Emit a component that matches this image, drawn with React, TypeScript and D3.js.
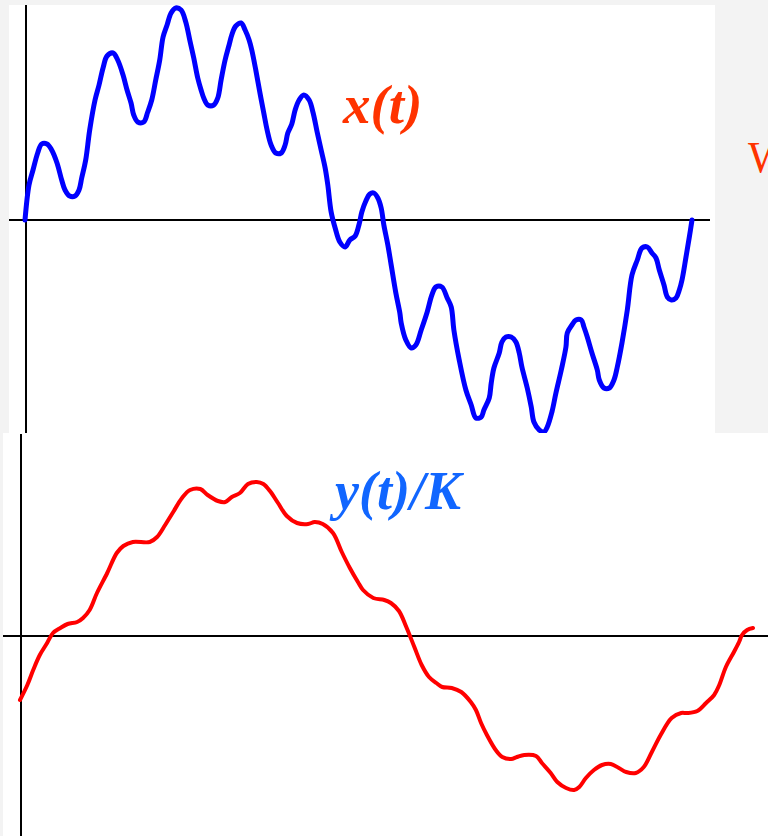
import * as d3 from 'd3'

const W = 768
const H = 836

// x(t): time (0..100) and value
const xT = [0, 0.6, 1.2, 1.9, 2.5, 3.3, 4.0, 4.8, 5.5, 6.0, 6.7, 7.5, 8.1, 8.5, 9.1, 9.7, 10.5, 11.1, 11.7, 12.3, 13.2, 13.9, 14.7, 15.3, 15.9, 16.3, 16.9, 17.8, 18.4, 19.0, 19.6, 20.2, 20.7, 21.3, 21.9, 22.6, 23.4, 24.1, 24.7, 25.3, 25.9, 26.4, 26.8, 27.4, 28.3, 28.9, 29.4, 30.0, 30.6, 31.0, 31.6, 32.4, 33.0, 33.6, 34.0, 34.6, 35.2, 35.8, 36.3, 36.9, 37.6, 38.4, 39.0, 39.4, 40.0, 40.5, 41.1, 41.8, 42.6, 43.2, 43.8, 44.4, 45.0, 45.4, 45.9, 46.5, 47.2, 48.0, 48.7, 49.5, 50.1, 50.5, 51.1, 51.7, 52.3, 52.9, 53.4, 53.8, 54.4, 54.9, 55.6, 56.2, 56.4, 57.1, 57.9, 58.6, 59.4, 60.3, 61.0, 61.6, 62.5, 63.3, 63.9, 64.3, 65.1, 66.1, 66.9, 67.6, 68.4, 68.8, 69.6, 69.9, 70.3, 71.1, 71.5, 72.1, 72.9, 73.6, 74.1, 74.5, 75.3, 75.9, 76.3, 77.1, 77.8, 78.3, 79.0, 79.6, 80.4, 81.1, 81.3, 82.0, 82.6, 83.4, 83.8, 84.3, 85.0, 85.8, 86.1, 86.8, 87.6, 88.3, 88.8, 89.5, 90.3, 91.0, 91.8, 92.5, 93.3, 94.0, 94.6, 95.1, 95.8, 96.3, 96.9, 97.6, 98.1, 98.5, 99.1, 99.6, 100]
const xVal = [0, 0.35, 0.5, 0.67, 0.76, 0.76, 0.7, 0.57, 0.4, 0.3, 0.24, 0.24, 0.3, 0.42, 0.6, 0.9, 1.2, 1.35, 1.52, 1.64, 1.67, 1.6, 1.45, 1.3, 1.17, 1.05, 0.98, 0.98, 1.08, 1.2, 1.4, 1.6, 1.83, 1.95, 2.07, 2.12, 2.1, 1.98, 1.8, 1.62, 1.42, 1.3, 1.22, 1.15, 1.15, 1.22, 1.4, 1.6, 1.75, 1.85, 1.94, 1.97, 1.9, 1.8, 1.7, 1.5, 1.28, 1.07, 0.9, 0.75, 0.67, 0.67, 0.75, 0.87, 0.96, 1.1, 1.2, 1.25, 1.2, 1.07, 0.88, 0.7, 0.52, 0.35, 0.08, -0.08, -0.22, -0.27, -0.2, -0.16, -0.04, 0.08, 0.19, 0.26, 0.27, 0.22, 0.12, -0.05, -0.25, -0.45, -0.73, -0.93, -1.03, -1.2, -1.28, -1.25, -1.1, -0.92, -0.75, -0.67, -0.67, -0.78, -0.87, -1.1, -1.4, -1.7, -1.85, -1.98, -1.97, -1.9, -1.78, -1.63, -1.48, -1.33, -1.22, -1.17, -1.17, -1.22, -1.33, -1.47, -1.68, -1.87, -2.02, -2.1, -2.12, -2.07, -1.92, -1.73, -1.5, -1.27, -1.13, -1.05, -1.0, -1.0, -1.07, -1.17, -1.33, -1.5, -1.6, -1.68, -1.68, -1.6, -1.47, -1.23, -0.9, -0.55, -0.4, -0.28, -0.27, -0.33, -0.38, -0.5, -0.65, -0.77, -0.8, -0.78, -0.7, -0.6, -0.37, -0.17, 0]

// y(t)/K: time (0..100) and value
const yT = [0, 1.0, 1.8, 2.7, 3.7, 4.5, 5.5, 6.5, 7.8, 8.6, 9.5, 10.5, 11.9, 13.2, 14.1, 15.4, 17.7, 18.7, 19.8, 20.9, 22.1, 23.2, 24.6, 25.6, 27.0, 28.0, 28.9, 30.0, 31.1, 32.3, 33.2, 34.1, 35.2, 36.4, 37.8, 39.3, 40.2, 41.3, 42.7, 43.9, 45.0, 46.1, 46.8, 48.2, 49.7, 50.6, 51.7, 52.7, 53.8, 54.8, 55.8, 56.8, 57.6, 58.9, 60.2, 61.5, 62.2, 62.9, 63.7, 64.9, 65.8, 67.0, 67.8, 68.8, 70.4, 71.2, 72.4, 73.3, 74.5, 75.6, 76.3, 77.2, 78.3, 79.4, 80.6, 81.7, 82.7, 84.0, 85.1, 86.2, 87.4, 88.9, 90.2, 91.0, 92.4, 93.6, 94.7, 95.4, 96.3, 97.4, 98.1, 98.5, 99.2, 100]
const yVal = [-0.64, -0.49, -0.34, -0.19, -0.07, 0.03, 0.08, 0.12, 0.14, 0.18, 0.26, 0.43, 0.63, 0.83, 0.9, 0.94, 0.94, 0.99, 1.11, 1.24, 1.38, 1.46, 1.47, 1.41, 1.35, 1.34, 1.39, 1.43, 1.52, 1.54, 1.52, 1.45, 1.33, 1.2, 1.13, 1.12, 1.14, 1.12, 1.03, 0.84, 0.68, 0.54, 0.46, 0.38, 0.36, 0.33, 0.25, 0.09, -0.11, -0.29, -0.41, -0.47, -0.51, -0.52, -0.56, -0.66, -0.74, -0.87, -0.99, -1.14, -1.21, -1.23, -1.21, -1.19, -1.2, -1.27, -1.37, -1.46, -1.52, -1.54, -1.51, -1.42, -1.34, -1.29, -1.28, -1.32, -1.36, -1.37, -1.31, -1.16, -0.99, -0.82, -0.77, -0.77, -0.75, -0.67, -0.59, -0.49, -0.31, -0.16, -0.06, 0.01, 0.06, 0.08]

const labels = { x: ['x', '(', 't', ')'], y: ['y', '(', 't', ')/', 'K'] }

export default function App() {
  // top panel
  const tx = d3.scaleLinear().domain([0, 100]).range([25, 692])
  const ty = d3.scaleLinear().domain([-2.1, 2.15]).range([430, 5])
  // bottom panel
  const bx = d3.scaleLinear().domain([0, 100]).range([20, 753])
  const by = d3.scaleLinear().domain([-2, 2.03]).range([836, 433])

  const topLine = d3.line<number>()
    .x((_, i) => tx(xT[i]))
    .y((d) => ty(d))
    .curve(d3.curveCatmullRom.alpha(0.5))
  const botLine = d3.line<number>()
    .x((_, i) => bx(yT[i]))
    .y((d) => by(d))
    .curve(d3.curveCatmullRom.alpha(0.5))

  const font = '"Liberation Serif", "Times New Roman", serif'

  return (
    <div style={{ position: 'absolute', left: 0, top: 0 }}>
      <svg width={W} height={H} style={{ display: 'block' }}>
        <rect x={0} y={0} width={W} height={H} fill="#f3f3f3" />

        {/* top panel */}
        <rect x={9} y={5} width={706} height={428} fill="#fff" />
        <text x={748} y={172} fill="#ff3300" fontFamily={font} fontSize={44}>W</text>
        <line x1={26} x2={26} y1={5} y2={440} stroke="#000" strokeWidth={2} />
        <line x1={9} x2={710} y1={ty(0)} y2={ty(0)} stroke="#000" strokeWidth={2} />
        <path d={topLine(xVal) ?? ''} fill="none" stroke="#0000ff" strokeWidth={5}
          strokeLinejoin="round" strokeLinecap="round" />
        <text x={343} y={123} fill="#ff3300" fontFamily={font} fontSize={55}
          fontWeight="bold" fontStyle="italic">
          {labels.x.join('')}
        </text>

        {/* bottom panel */}
        <rect x={3} y={433} width={765} height={403} fill="#fff" />
        <line x1={21} x2={21} y1={434} y2={H} stroke="#000" strokeWidth={2} />
        <line x1={3} x2={W} y1={by(0)} y2={by(0)} stroke="#000" strokeWidth={2} />
        <path d={botLine(yVal) ?? ''} fill="none" stroke="#ff0000" strokeWidth={4}
          strokeLinejoin="round" strokeLinecap="round" />
        <text x={335} y={509} fill="#1166ff" fontFamily={font} fontSize={54}
          fontWeight="bold" fontStyle="italic">
          {labels.y.join('')}
        </text>
      </svg>
    </div>
  )
}
